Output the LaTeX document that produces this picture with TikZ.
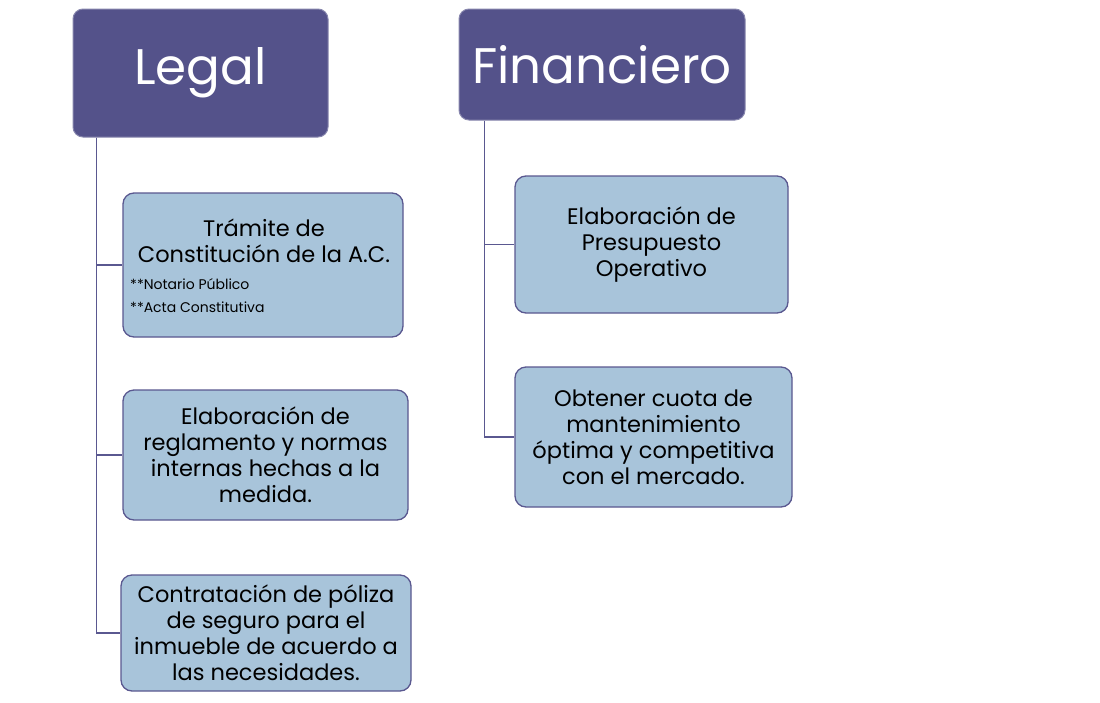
\documentclass[tikz,border=0pt]{standalone}
\usepackage{fontspec}
\setmainfont{Poppins}
\definecolor{head}{HTML}{54528A}
\definecolor{boxfill}{HTML}{A8C4DA}
\definecolor{edge}{HTML}{5A5890}
\begin{document}
\begin{tikzpicture}[x=1pt,y=-1pt,
  headbox/.style={draw=head!70!white, line width=1pt, fill=head, rounded corners=10pt, text=white, font=\fontsize{50}{54}\selectfont, inner sep=0pt},
  subbox/.style={draw=edge, line width=1.3pt, fill=boxfill, rounded corners=11pt, align=center, inner sep=0pt, font=\fontsize{22.5}{26}\selectfont},
  maintxt/.style={align=center, inner sep=0pt, font=\fontsize{22.5}{26}\selectfont},
  smalltxt/.style={align=left, inner sep=0pt, font=\fontsize{14}{23}\selectfont},
  conn/.style={draw=edge, line width=1.8pt}]
\useasboundingbox (0,0) rectangle (1100,702);
\fill[white] (0,0) rectangle (1100,702);
% headers
\node[headbox, minimum width=255pt, minimum height=128pt] (legal) at (200.5,73) {Legal};
\node[headbox, minimum width=286pt, minimum height=111pt] (fin) at (602,64.5) {Financiero};
% legal boxes
\node[subbox, minimum width=280pt, minimum height=144pt] (b1) at (263,265) {};
\node[maintxt] (b1t) at (264,241) {Trámite de\\Constitución de la A.C.};
\node[smalltxt, anchor=west] (b1s) at (130,295.5) {**Notario Público\\{}**Acta Constitutiva};
\node[subbox, minimum width=285pt, minimum height=130pt] (b2) at (265.5,455) {Elaboración de\\reglamento y normas\\internas hechas a la\\medida.};
\node[subbox, minimum width=290pt, minimum height=116pt] (b3) at (266,633) {Contratación de póliza\\de seguro para el\\inmueble de acuerdo a\\las necesidades.};
% financiero boxes
\node[subbox, minimum width=273pt, minimum height=137pt] (b4) at (651.5,244.5) {Elaboración de\\Presupuesto\\Operativo};
\node[subbox, minimum width=277pt, minimum height=140pt] (b5) at (653.5,437) {Obtener cuota de\\mantenimiento\\óptima y competitiva\\con el mercado.};
% connectors
\coordinate (lt) at ([xshift=24pt]legal.south west);
\coordinate (ft) at ([xshift=26pt]fin.south west);
\draw[conn] (lt) |- (b1.west);
\draw[conn] (lt) |- (b2.west);
\draw[conn] (lt) |- (b3.west);
\draw[conn] (ft) |- (b4.west);
\draw[conn] (ft) |- (b5.west);
\end{tikzpicture}
\end{document}
